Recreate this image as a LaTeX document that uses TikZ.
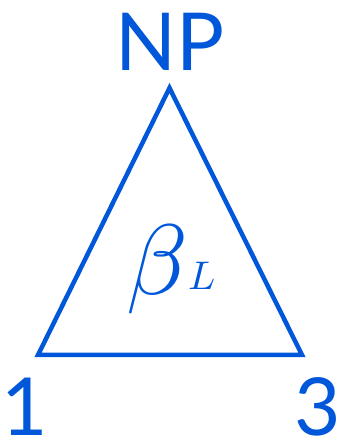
\documentclass[tikz,border=0pt]{standalone}
\usepackage{fontspec}
\newfontfamily\labfont{Lato}
\definecolor{treeblue}{RGB}{0,87,217}
\begin{document}
\begin{tikzpicture}[x=1pt,y=1pt,
  lab/.style={text=treeblue,font=\labfont\fontsize{80}{80}\selectfont,inner sep=0pt,anchor=base},
  tri/.style={draw=treeblue,line width=4.5pt,miter limit=10,line join=miter}]
\useasboundingbox (0,0) rectangle (342,440);
\coordinate (apex) at (169.5,352);
\coordinate (bl) at (38,85);
\coordinate (br) at (302,85);
\draw[tri] (apex) -- (bl) -- (br) -- cycle;
\node[lab] (np) at (170,369) {NP};
\node[lab] (one) at (24.5,5) {1};
\node[lab] (three) at (317.5,5) {3};
\node[text=treeblue,inner sep=0pt,anchor=base west] (beta) at (126,145)
  {\scalebox{10}{$\beta$}\kern0pt\raisebox{6pt}{\scalebox{4}{$L$}}};
\end{tikzpicture}
\end{document}
